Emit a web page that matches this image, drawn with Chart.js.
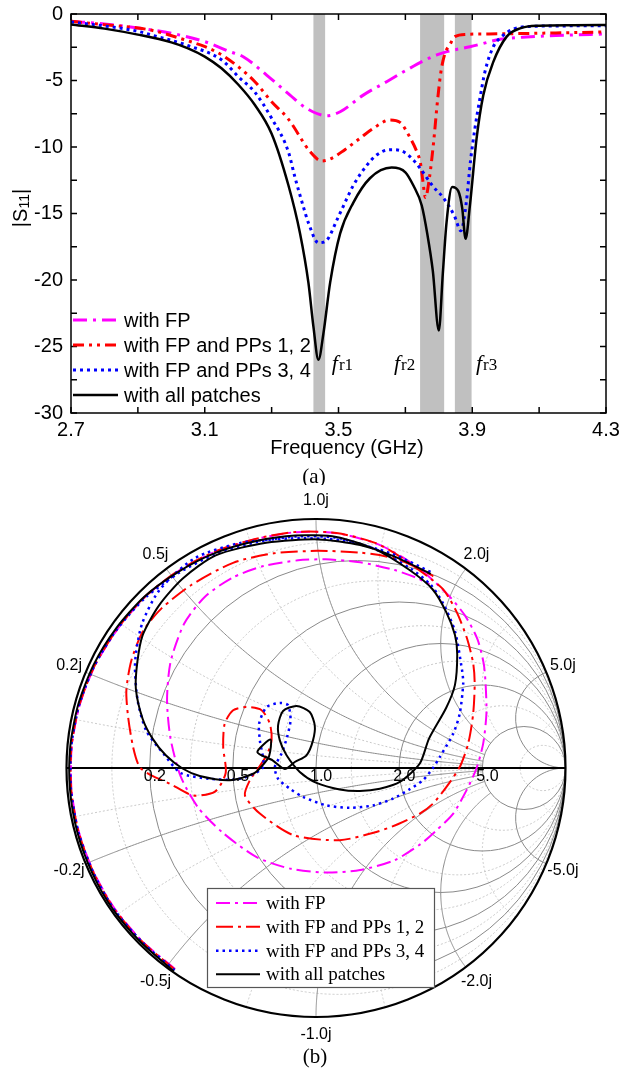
<!DOCTYPE html>
<html>
<head>
<meta charset="utf-8">
<script src="https://cdn.jsdelivr.net/npm/chart.js@4.4.1/dist/chart.umd.min.js"></script>
<style>
    html, body { margin: 0; padding: 0; background: #fff; }
    body { width: 619px; height: 1069px; position: relative; overflow: hidden; }
    canvas { position: absolute; left: 0; }
    #s11Chart { top: 0; }
    #smithChart { top: 485px; }
</style>
</head>
<body>
<canvas id="s11Chart" width="619" height="485"></canvas>
<canvas id="smithChart" width="619" height="584"></canvas>
<script>
// ---- data: |S11| (dB) vs frequency (GHz) ----
const seriesNames = ['with FP', 'with FP and PPs 1, 2', 'with FP and PPs 3, 4', 'with all patches'];

const freqFP = [2.70, 2.80, 2.90, 3.00, 3.10, 3.175, 3.215, 3.285, 3.355, 3.405, 3.465, 3.505, 3.574, 3.644, 3.704, 3.759, 3.794, 3.824, 3.893, 3.923, 3.983, 4.05, 4.15, 4.30];
const s11FP = [-0.55, -0.75, -1.05, -1.45, -2.08, -2.83, -3.21, -4.59, -6.1, -7.1, -7.65, -7.35, -6.1, -5.09, -4.21, -3.46, -3.08, -2.83, -2.46, -2.28, -1.9, -1.75, -1.62, -1.5];

const freqPP12 = [2.70, 2.80, 2.90, 2.951, 3.051, 3.101, 3.151, 3.20, 3.25, 3.30, 3.35, 3.415, 3.45, 3.48, 3.519, 3.564, 3.604, 3.654, 3.684, 3.714, 3.735, 3.745, 3.752, 3.760, 3.772, 3.785, 3.795, 3.806, 3.818, 3.833, 3.848, 3.883, 3.95, 4.05, 4.15, 4.30];
const s11PP12 = [-0.55, -0.8, -1.05, -1.28, -2.03, -2.46, -3.08, -3.96, -5.09, -6.6, -7.9, -10.35, -11.05, -10.85, -10.2, -9.35, -8.6, -7.97, -8.15, -9.3, -10.4, -11.2, -12.5, -13.8, -12.3, -9.5, -6.8, -4.4, -3.0, -2.3, -1.7, -1.53, -1.5, -1.47, -1.42, -1.35];

const freqPP34 = [2.70, 2.80, 2.90, 2.951, 3.051, 3.151, 3.20, 3.25, 3.30, 3.35, 3.37, 3.395, 3.41, 3.44, 3.465, 3.495, 3.519, 3.544, 3.584, 3.614, 3.654, 3.689, 3.719, 3.744, 3.784, 3.813, 3.847, 3.866, 3.882, 3.895, 3.908, 3.923, 3.938, 3.963, 3.988, 4.023, 4.063, 4.15, 4.30];
const s11PP34 = [-0.6, -0.9, -1.3, -1.65, -2.38, -3.46, -4.7, -5.89, -7.84, -10.35, -12.3, -14.5, -15.7, -17.2, -17.0, -15.5, -14.2, -12.9, -11.4, -10.6, -10.2, -10.3, -10.85, -11.6, -13.0, -13.8, -15.2, -16.3, -14.2, -11.0, -8.6, -6.34, -4.34, -2.46, -1.7, -1.13, -0.95, -0.9, -0.88];

const freqAll = [2.70, 2.80, 2.90, 3.00, 3.05, 3.10, 3.15, 3.20, 3.25, 3.30, 3.35, 3.385, 3.41, 3.425, 3.44, 3.455, 3.475, 3.505, 3.544, 3.594, 3.659, 3.70, 3.724, 3.749, 3.766, 3.782, 3.80, 3.812, 3.823, 3.840, 3.858, 3.870, 3.880, 3.893, 3.913, 3.933, 3.963, 4.003, 4.043, 4.10, 4.20, 4.30];
const s11All = [-0.78, -1.1, -1.55, -2.13, -2.58, -3.2, -4.08, -5.3, -6.84, -9.0, -12.86, -16.5, -20.2, -23.5, -26.0, -24.0, -20.2, -16.5, -14.2, -12.35, -11.55, -11.9, -12.9, -14.4, -16.6, -19.3, -23.8, -19.5, -15.7, -13.0, -13.3, -14.6, -16.9, -14.4, -9.35, -6.1, -3.6, -1.7, -1.08, -0.88, -0.84, -0.83];

// shaded resonance bands (GHz) and their labels
const bands = [[3.425, 3.46], [3.744, 3.816], [3.848, 3.898]];
const bandLabels = [['r1', 3.48], ['r2', 3.666], ['r3', 3.911]];

const xTicks = [2.7, 3.1, 3.5, 3.9, 4.3];
const yTicks = [0, -5, -10, -15, -20, -25, -30];

// ---- data: Smith chart traces, reflection coefficient [re, im] ----
const smithFP = [[-0.565,-0.807],[-0.696,-0.696],[-0.807,-0.565],[-0.892,-0.416],[-0.951,-0.255],[-0.980,-0.086],[-0.979,0.086],[-0.947,0.254],[-0.885,0.413],[-0.796,0.557],[-0.686,0.686],[-0.553,0.790],[-0.405,0.868],[-0.246,0.918],[-0.083,0.947],[0.082,0.943],[0.240,0.902],[0.345,0.848],[0.445,0.775],[0.536,0.688],[0.598,0.611],[0.647,0.518],[0.672,0.420],[0.680,0.334],[0.683,0.218],[0.670,0.098],[0.643,-0.002],[0.603,-0.090],[0.550,-0.183],[0.483,-0.250],[0.420,-0.305],[0.315,-0.370],[0.177,-0.410],[0.039,-0.420],[-0.100,-0.405],[-0.238,-0.358],[-0.376,-0.258],[-0.473,-0.158],[-0.542,-0.035],[-0.583,0.118],[-0.597,0.272],[-0.583,0.426],[-0.528,0.580],[-0.445,0.688],[-0.334,0.765],[-0.210,0.811],[-0.072,0.834],[0.039,0.838],[0.177,0.826],[0.315,0.795],[0.400,0.765],[0.455,0.738]];

const smithPP12 = [[-0.566,-0.809],[-0.697,-0.697],[-0.809,-0.566],[-0.893,-0.417],[-0.952,-0.255],[-0.981,-0.086],[-0.980,0.086],[-0.948,0.254],[-0.886,0.413],[-0.797,0.558],[-0.687,0.687],[-0.554,0.791],[-0.406,0.869],[-0.247,0.919],[-0.083,0.948],[0.082,0.944],[0.240,0.903],[0.335,0.850],[0.425,0.786],[0.509,0.718],[0.564,0.626],[0.606,0.518],[0.630,0.420],[0.636,0.339],[0.630,0.218],[0.610,0.098],[0.576,0.004],[0.523,-0.076],[0.469,-0.143],[0.416,-0.183],[0.330,-0.225],[0.242,-0.257],[0.095,-0.290],[-0.090,-0.270],[-0.225,-0.183],[-0.285,-0.110],[-0.265,-0.049],[-0.232,-0.002],[-0.198,0.051],[-0.178,0.111],[-0.185,0.178],[-0.218,0.232],[-0.279,0.245],[-0.332,0.232],[-0.366,0.178],[-0.372,0.084],[-0.362,-0.020],[-0.405,-0.095],[-0.493,-0.110],[-0.586,-0.063],[-0.660,-0.030],[-0.707,0.004],[-0.733,0.084],[-0.753,0.205],[-0.760,0.312],[-0.740,0.432],[-0.693,0.550],[-0.620,0.640],[-0.500,0.735],[-0.330,0.825],[-0.169,0.862],[0.004,0.872],[0.177,0.865],[0.315,0.842],[0.426,0.795],[0.470,0.770]];

const smithPP34 = [[-0.567,-0.812],[-0.698,-0.698],[-0.810,-0.567],[-0.894,-0.417],[-0.953,-0.255],[-0.982,-0.086],[-0.981,0.086],[-0.949,0.254],[-0.887,0.413],[-0.797,0.558],[-0.684,0.684],[-0.549,0.784],[-0.401,0.860],[-0.243,0.906],[-0.081,0.930],[0.080,0.925],[0.240,0.878],[0.380,0.800],[0.460,0.735],[0.510,0.660],[0.557,0.549],[0.585,0.395],[0.590,0.339],[0.576,0.218],[0.550,0.138],[0.496,0.044],[0.469,0.000],[0.429,-0.049],[0.376,-0.085],[0.309,-0.123],[0.229,-0.150],[0.135,-0.160],[0.042,-0.150],[-0.052,-0.116],[-0.105,-0.083],[-0.152,-0.043],[-0.165,0.004],[-0.138,0.058],[-0.116,0.124],[-0.102,0.192],[-0.112,0.252],[-0.145,0.261],[-0.198,0.245],[-0.228,0.178],[-0.225,0.111],[-0.212,0.004],[-0.279,-0.036],[-0.332,-0.047],[-0.431,-0.043],[-0.542,-0.020],[-0.611,0.057],[-0.680,0.149],[-0.715,0.272],[-0.725,0.426],[-0.697,0.580],[-0.625,0.718],[-0.487,0.842],[-0.307,0.903],[-0.100,0.922],[0.100,0.915],[0.300,0.862],[0.470,0.782]];

const smithAll = [[-0.570,-0.816],[-0.701,-0.701],[-0.813,-0.569],[-0.898,-0.419],[-0.957,-0.256],[-0.986,-0.086],[-0.985,0.086],[-0.953,0.255],[-0.891,0.415],[-0.801,0.561],[-0.688,0.688],[-0.552,0.788],[-0.403,0.864],[-0.244,0.911],[-0.082,0.934],[0.081,0.928],[0.236,0.879],[0.372,0.797],[0.467,0.718],[0.522,0.626],[0.557,0.534],[0.566,0.457],[0.557,0.334],[0.522,0.242],[0.453,0.118],[0.416,0.018],[0.336,-0.056],[0.256,-0.083],[0.176,-0.092],[0.095,-0.086],[0.002,-0.060],[-0.065,-0.016],[-0.118,0.051],[-0.145,0.111],[-0.152,0.171],[-0.132,0.229],[-0.078,0.249],[-0.025,0.225],[-0.005,0.171],[-0.012,0.111],[-0.038,0.051],[-0.085,0.024],[-0.125,-0.004],[-0.174,0.031],[-0.235,0.064],[-0.182,0.114],[-0.188,0.048],[-0.222,0.002],[-0.252,-0.023],[-0.345,-0.049],[-0.466,-0.032],[-0.535,-0.002],[-0.602,0.051],[-0.655,0.118],[-0.695,0.198],[-0.722,0.319],[-0.716,0.426],[-0.695,0.533],[-0.629,0.653],[-0.534,0.761],[-0.402,0.854],[-0.200,0.905],[0.011,0.918],[0.177,0.895],[0.315,0.849],[0.460,0.780]];

const smithMajor = [0.2, 0.5, 1, 2, 5];
const smithMinor = [0.1, 0.33, 0.75, 1.33, 3, 10];
const reactanceLabels = [1, 0.5, 2, 0.2, 5, -0.2, -5, -0.5, -2, -1];

// ---- styles ----
const SANS = "'Liberation Sans', Arial, sans-serif";
const SERIF = "'Liberation Serif', 'Times New Roman', serif";
Chart.defaults.font.family = SANS;
Chart.defaults.color = '#000';

const s11Styles = [
    {borderColor: '#ff00ff', borderDash: [14, 6, 3, 6], borderWidth: 3},
    {borderColor: '#ff0000', borderDash: [11, 5, 3, 5, 3, 5], borderWidth: 3},
    {borderColor: '#0000ff', borderDash: [3, 4], borderWidth: 3},
    {borderColor: '#000000', borderDash: [], borderWidth: 2.5},
];
const smithStyles = [
    {borderColor: '#ff00ff', borderDash: [14, 5, 3, 5], borderWidth: 2},
    {borderColor: '#ff0000', borderDash: [17, 5, 3, 5], borderWidth: 2},
    {borderColor: '#0000ff', borderDash: [2.5, 4], borderWidth: 2.5},
    {borderColor: '#000000', borderDash: [], borderWidth: 2},
];

const toXY = (xs, ys) => xs.map((v, i) => ({x: v, y: ys[i]}));
const pairsToXY = (pairs) => pairs.map(([re, im]) => ({x: re, y: im}));

const drawLegendLine = (ctx, style, x1, x2, y) => {
    ctx.save();
    ctx.strokeStyle = style.borderColor;
    ctx.lineWidth = style.borderWidth;
    ctx.setLineDash(style.borderDash);
    ctx.beginPath();
    ctx.moveTo(x1, y);
    ctx.lineTo(x2, y);
    ctx.stroke();
    ctx.restore();
};

// ---- plugin: bands, frame, inward ticks, legend, labels for (a) ----
const s11Decor = {
    id: 's11Decor',
    beforeDatasetsDraw(chart) {
        const {ctx, chartArea: a, scales: {x}} = chart;
        ctx.save();
        ctx.fillStyle = '#c0c0c0';
        bands.forEach(([f1, f2]) => {
            const x1 = x.getPixelForValue(f1);
            const x2 = x.getPixelForValue(f2);
            ctx.fillRect(x1, a.top, x2 - x1, a.bottom - a.top);
        });
        ctx.restore();
    },
    afterDatasetsDraw(chart) {
        const {ctx, chartArea: a, scales: {x, y}} = chart;
        ctx.save();
        ctx.strokeStyle = '#000';
        ctx.lineWidth = 1.5;
        ctx.strokeRect(a.left, a.top, a.right - a.left, a.bottom - a.top);
        const len = 6;
        ctx.beginPath();
        for (let i = 0; i < xTicks.length; i++) {
            const vals = [xTicks[i]];
            if (i < xTicks.length - 1) vals.push((xTicks[i] + xTicks[i + 1]) / 2);
            vals.forEach(v => {
                const px = x.getPixelForValue(v);
                ctx.moveTo(px, a.bottom); ctx.lineTo(px, a.bottom - len);
                ctx.moveTo(px, a.top); ctx.lineTo(px, a.top + len);
            });
        }
        for (let i = 0; i < yTicks.length; i++) {
            const vals = [yTicks[i]];
            if (i < yTicks.length - 1) vals.push((yTicks[i] + yTicks[i + 1]) / 2);
            vals.forEach(v => {
                const py = y.getPixelForValue(v);
                ctx.moveTo(a.left, py); ctx.lineTo(a.left + len, py);
                ctx.moveTo(a.right, py); ctx.lineTo(a.right - len, py);
            });
        }
        ctx.stroke();
        ctx.restore();
    },
    afterDraw(chart) {
        const {ctx, scales: {x, y}} = chart;
        ctx.save();
        ctx.fillStyle = '#000';

        // legend (inside plot, lower left)
        ctx.font = `20px ${SANS}`;
        ctx.textBaseline = 'middle';
        ctx.textAlign = 'left';
        const rows = [320, 345, 370, 395];
        seriesNames.forEach((name, i) => {
            drawLegendLine(ctx, s11Styles[i], 73, 118, rows[i]);
            ctx.fillText(name, 124, rows[i] + 1);
        });

        // f_r labels
        ctx.textBaseline = 'alphabetic';
        bandLabels.forEach(([sub, f]) => {
            const px = x.getPixelForValue(f);
            const py = y.getPixelForValue(-26.8);
            ctx.font = `italic 22px ${SERIF}`;
            ctx.fillText('f', px, py);
            const w = ctx.measureText('f').width;
            ctx.font = `17px ${SERIF}`;
            ctx.fillText(sub, px + w + 1, py);
        });

        // axis titles
        ctx.font = `20px ${SANS}`;
        ctx.textAlign = 'center';
        ctx.textBaseline = 'middle';
        ctx.fillText('Frequency (GHz)', 347, 448);

        ctx.save();
        ctx.translate(21, 208);
        ctx.rotate(-Math.PI / 2);
        ctx.textAlign = 'left';
        ctx.font = `20px ${SANS}`;
        const w1 = ctx.measureText('|S').width;
        const w3 = ctx.measureText('|').width;
        ctx.font = `14px ${SANS}`;
        const w2 = ctx.measureText('11').width;
        const start = -(w1 + w2 + w3) / 2;
        ctx.font = `20px ${SANS}`;
        ctx.fillText('|S', start, 0);
        ctx.font = `14px ${SANS}`;
        ctx.fillText('11', start + w1, 4);
        ctx.font = `20px ${SANS}`;
        ctx.fillText('|', start + w1 + w2, 0);
        ctx.restore();

        ctx.font = `21px ${SERIF}`;
        ctx.fillText('(a)', 314, 477);
        ctx.restore();
    },
};

new Chart(document.getElementById('s11Chart'), {
    type: 'line',
    data: {
        datasets: [
            {label: seriesNames[0], data: toXY(freqFP, s11FP), ...s11Styles[0], order: 3},
            {label: seriesNames[1], data: toXY(freqPP12, s11PP12), ...s11Styles[1], order: 2},
            {label: seriesNames[2], data: toXY(freqPP34, s11PP34), ...s11Styles[2], order: 1},
            {label: seriesNames[3], data: toXY(freqAll, s11All), ...s11Styles[3], order: 0},
        ],
    },
    options: {
        responsive: false,
        animation: false,
        events: [],
        layout: {padding: {top: 14, right: 13, bottom: 32, left: 0}},
        elements: {
            point: {radius: 0},
            line: {cubicInterpolationMode: 'monotone', fill: false},
        },
        plugins: {legend: {display: false}, tooltip: {enabled: false}},
        scales: {
            x: {
                type: 'linear',
                min: 2.7,
                max: 4.3,
                grid: {display: false, drawTicks: false},
                border: {display: false},
                ticks: {
                    font: {size: 20, family: SANS},
                    color: '#000',
                    padding: 5,
                    maxRotation: 0,
                    autoSkip: false,
                    callback: (v) => Number(v).toFixed(1),
                },
                afterBuildTicks: (s) => { s.ticks = xTicks.map(v => ({value: v})); },
                afterFit: (s) => { s.height = 40; s.paddingLeft = 0; s.paddingRight = 0; },
            },
            y: {
                type: 'linear',
                min: -30,
                max: 0,
                grid: {display: false, drawTicks: false},
                border: {display: false},
                ticks: {
                    font: {size: 20, family: SANS},
                    color: '#000',
                    padding: 8,
                    autoSkip: false,
                    callback: (v) => String(v),
                },
                afterBuildTicks: (s) => { s.ticks = yTicks.map(v => ({value: v})); },
                afterFit: (s) => { s.width = 71; s.paddingTop = 0; s.paddingBottom = 0; },
            },
        },
    },
    plugins: [s11Decor],
});

// ---- plugin: Smith chart grid, boundary, labels, legend ----
const smithDecor = {
    id: 'smithDecor',
    beforeDatasetsDraw(chart) {
        const {ctx, scales: {x, y}} = chart;
        const cx = x.getPixelForValue(0), cy = y.getPixelForValue(0);
        const rx = x.getPixelForValue(1) - cx, ry = cy - y.getPixelForValue(1);
        const gp = (re, im) => [cx + re * rx, cy - im * ry];

        const rCircle = (r) => {
            const c = r / (r + 1), rad = 1 / (r + 1);
            ctx.beginPath();
            ctx.ellipse(cx + c * rx, cy, rad * rx, rad * ry, 0, 0, Math.PI * 2);
            ctx.stroke();
        };
        const xArc = (xv, rMax) => {
            ctx.beginPath();
            const n = 300;
            for (let i = 0; i <= n; i++) {
                const t = i / n;
                const r = rMax * t * t * t;
                const den = (r + 1) * (r + 1) + xv * xv;
                const [px, py] = gp((r * r - 1 + xv * xv) / den, 2 * xv / den);
                if (i === 0) ctx.moveTo(px, py); else ctx.lineTo(px, py);
            }
            ctx.stroke();
        };

        ctx.save();
        ctx.beginPath();
        ctx.ellipse(cx, cy, rx, ry, 0, 0, Math.PI * 2);
        ctx.clip();

        ctx.strokeStyle = '#c8c8c8';
        ctx.lineWidth = 1;
        ctx.setLineDash([2, 2]);
        smithMinor.forEach(v => {
            rCircle(v);
            xArc(v, 5);
            xArc(-v, 5);
        });

        ctx.strokeStyle = '#8a8a8a';
        ctx.setLineDash([]);
        smithMajor.forEach(v => {
            rCircle(v);
            const lim = v >= 5 ? 20000 : 5;
            xArc(v, lim);
            xArc(-v, lim);
        });

        ctx.strokeStyle = '#000';
        ctx.lineWidth = 1.8;
        ctx.beginPath();
        ctx.moveTo(cx - rx, cy);
        ctx.lineTo(cx + rx, cy);
        ctx.stroke();
        ctx.restore();
    },
    afterDatasetsDraw(chart) {
        const {ctx, scales: {x, y}} = chart;
        const cx = x.getPixelForValue(0), cy = y.getPixelForValue(0);
        const rx = x.getPixelForValue(1) - cx, ry = cy - y.getPixelForValue(1);
        ctx.save();
        ctx.strokeStyle = '#000';
        ctx.lineWidth = 2.2;
        ctx.beginPath();
        ctx.ellipse(cx, cy, rx, ry, 0, 0, Math.PI * 2);
        ctx.stroke();
        ctx.restore();
    },
    afterDraw(chart) {
        const {ctx, scales: {x, y}} = chart;
        const cx = x.getPixelForValue(0), cy = y.getPixelForValue(0);
        const rx = x.getPixelForValue(1) - cx, ry = cy - y.getPixelForValue(1);
        ctx.save();
        ctx.fillStyle = '#000';
        ctx.font = `16px ${SANS}`;
        ctx.textBaseline = 'middle';

        // reactance labels round the rim
        ctx.textAlign = 'center';
        reactanceLabels.forEach(xv => {
            const ang = Math.PI - 2 * Math.atan(xv);
            const rr = 1.072;
            ctx.fillText(`${xv.toFixed(1)}j`, cx + rr * Math.cos(ang) * rx, cy - rr * Math.sin(ang) * ry);
        });

        // resistance labels on the real axis
        ctx.textAlign = 'left';
        smithMajor.forEach(r => {
            const g = (r - 1) / (r + 1);
            ctx.fillText(r.toFixed(1), cx + g * rx - 6, cy + 9);
        });

        // legend box
        const bx = 207.5, by = 403.5, bw = 227, bh = 99;
        ctx.fillStyle = '#fff';
        ctx.fillRect(bx, by, bw, bh);
        ctx.strokeStyle = '#555';
        ctx.lineWidth = 1.2;
        ctx.strokeRect(bx, by, bw, bh);
        ctx.fillStyle = '#000';
        ctx.font = `19px ${SERIF}`;
        const rows = [418, 441.7, 465.7, 489.3];
        seriesNames.forEach((name, i) => {
            drawLegendLine(ctx, smithStyles[i], 216, 260, rows[i]);
            ctx.fillText(name, 266, rows[i] + 1);
        });

        ctx.textAlign = 'center';
        ctx.font = `21px ${SERIF}`;
        ctx.fillText('(b)', 315, 572);
        ctx.restore();
    },
};

new Chart(document.getElementById('smithChart'), {
    type: 'scatter',
    data: {
        datasets: [
            {label: seriesNames[0], data: pairsToXY(smithFP), ...smithStyles[0], order: 3},
            {label: seriesNames[1], data: pairsToXY(smithPP12), ...smithStyles[1], order: 2},
            {label: seriesNames[2], data: pairsToXY(smithPP34), ...smithStyles[2], order: 1},
            {label: seriesNames[3], data: pairsToXY(smithAll), ...smithStyles[3], order: 0},
        ].map(d => ({...d, showLine: true, pointRadius: 0, tension: 0.25, fill: false})),
    },
    options: {
        responsive: false,
        animation: false,
        events: [],
        layout: {padding: {top: 34, right: 53.5, bottom: 52, left: 66.5}},
        plugins: {legend: {display: false}, tooltip: {enabled: false}},
        scales: {
            x: {type: 'linear', min: -1, max: 1, display: false},
            y: {type: 'linear', min: -1, max: 1, display: false},
        },
    },
    plugins: [smithDecor],
});
</script>
</body>
</html>
